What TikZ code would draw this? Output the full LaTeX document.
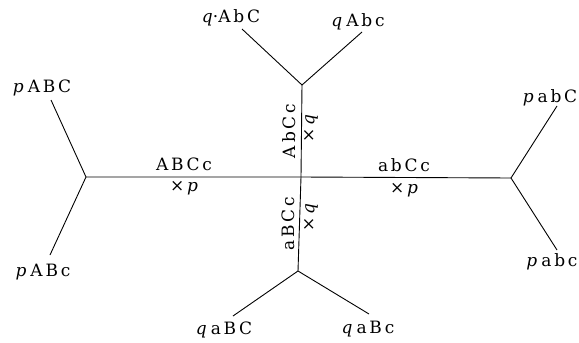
\documentclass[tikz,border=0pt]{standalone}
\usepackage{amsmath}
\usepackage{fontspec}
\setmainfont{DejaVu Serif}
\usepackage{tikz}
\usetikzlibrary{positioning,calc}

\newcommand{\lbl}{\fontsize{17}{20}\selectfont}
\newcommand{\tk}{\kern2.8pt}
\newcommand{\vp}{\textit{p}\kern4pt}
\newcommand{\vq}{\textit{q}}

\begin{document}
\begin{tikzpicture}[
    x=1pt, y=-1pt,
    edge/.style={line width=0.9pt},
    leaf/.style={font=\lbl, inner sep=0pt},
    tag/.style={font=\lbl, inner sep=0pt}
]
    \useasboundingbox (0,0) rectangle (579,343);

    % junctions
    \coordinate (mid) at (301,177);
    \coordinate (jl) at (86,177);
    \coordinate (jr) at (511,178);
    \coordinate (jt) at (302,85);
    \coordinate (jb) at (298,271);

    % free ends of the branches
    \coordinate (eABC) at (51,100);
    \coordinate (eABc) at (50,255);
    \coordinate (eabC) at (557,106);
    \coordinate (eabc) at (557,250);
    \coordinate (eAbC) at (242,29);
    \coordinate (eAbc) at (362,32);
    \coordinate (eaBC) at (233,316);
    \coordinate (eaBc) at (369,314);

    % leaf labels
    \node[leaf] (pABC) at (42,88) {\vp A\tk B\tk C};
    \node[leaf] (pABc) at (43,272) {\vp A\tk B\tk c};
    \node[leaf] (pabC) at (550,98) {\vp a\tk b\tk C};
    \node[leaf] (pabc) at (552,262) {\vp a\tk b\tk c};
    \node[leaf] (qAbC) at (231,18) {\vq·A\tk b\tk C};
    \node[leaf] (qAbc) at (358,22) {\vq\kern4pt A\tk b\tk c};
    \node[leaf] (qaBC) at (224,330) {\vq\kern4pt a\tk B\tk C};
    \node[leaf] (qaBc) at (368,329) {\vq\kern4pt a\tk B\tk c};

    % main cross
    \draw[edge] (jl) -- (mid) -- (jr);
    \draw[edge] (jt) -- (mid) -- (jb);

    % branches
    \draw[edge] (eABC) -- (jl) -- (eABc);
    \draw[edge] (eabC) -- (jr) -- (eabc);
    \draw[edge] (eAbC) -- (jt) -- (eAbc);
    \draw[edge] (eaBC) -- (jb) -- (eaBc);

    % edge labels
    \node[tag] (tABCc) at (184,164) {A\tk B\tk C\tk c};
    \node[tag] (pl) at (184,188) {×\,\textit{p}};
    \node[tag] (tabCc) at (404,165) {a\tk b\tk C\tk c};
    \node[tag] (pr) at (404,190) {×\,\textit{p}};
    \node[tag, rotate=90] (tAbCc) at (289,131) {A\tk b\tk C\tk c};
    \node[tag, rotate=90] (qt) at (311,129) {×\,\vq};
    \node[tag, rotate=90] (taBCc) at (288,224) {a\tk B\tk C\tk c};
    \node[tag, rotate=90] (qb) at (311,218) {×\,\vq};
\end{tikzpicture}
\end{document}
